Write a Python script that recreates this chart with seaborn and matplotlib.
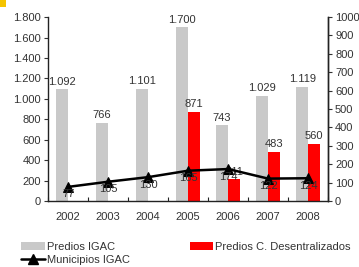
import matplotlib
matplotlib.use("Agg")
import matplotlib.pyplot as plt
import seaborn as sns
import pandas as pd
import numpy as np
from matplotlib.ticker import FuncFormatter, MultipleLocator, FixedLocator
from matplotlib.lines import Line2D
from matplotlib.patches import Patch

years = ["2002", "2003", "2004", "2005", "2006", "2007", "2008"]
predios_igac = [1092, 766, 1101, 1700, 743, 1029, 1119]
predios_desc = [0, 0, 0, 871, 211, 483, 560]
municipios_igac = [77, 105, 130, 165, 174, 122, 124]

sns.set_theme(style="white")
plt.rcParams['font.family'] = ['Liberation Sans', 'DejaVu Sans']

GRAY = "#c9c9c9"
RED = "#ff0000"
TXT = "#333333"
FS = 8

def dots(v, pos=None):
    return f"{int(v):,}".replace(",", ".")

df = pd.DataFrame({
    "year": years * 2,
    "value": predios_igac + predios_desc,
    "serie": ["Predios IGAC"] * len(years) + ["Predios C. Desentralizados"] * len(years),
})

fig = plt.figure(figsize=(3.59, 2.67), dpi=100)
ax = fig.add_axes([0.134, 0.247, 0.780, 0.689])
sns.barplot(data=df, x="year", y="value", hue="serie",
            palette=[GRAY, RED], width=0.6, dodge=True, ax=ax, legend=False,
            saturation=1, linewidth=0)
ax.set_xlim(-0.5, len(years) - 0.5)
ax.set_ylim(0, 1800)
ax.yaxis.set_major_locator(MultipleLocator(200))
ax.yaxis.set_major_formatter(FuncFormatter(dots))
ax.set_xlabel("")
ax.set_ylabel("")
ax.tick_params(axis="y", labelsize=FS, colors=TXT, length=3, width=0.8, direction="out", pad=2, left=True)
ax.tick_params(axis="x", labelsize=FS, colors=TXT, length=0, pad=8)
ax.xaxis.set_minor_locator(FixedLocator(np.arange(-0.5, len(years), 1.0)))
ax.tick_params(axis="x", which="minor", length=3, width=0.8, direction="in", bottom=True, color="#222222")
ax.spines["top"].set_visible(False)
for s in ["left", "bottom", "right"]:
    ax.spines[s].set_color("#222222")
    ax.spines[s].set_linewidth(1.0)

pos = np.arange(len(years))
for i, v in enumerate(predios_igac):
    ax.text(pos[i] - 0.15, v + 25, dots(v), ha="center", va="bottom", fontsize=FS, color=TXT)
for i, v in enumerate(predios_desc):
    if v > 0:
        ax.text(pos[i] + 0.15, v + 25, dots(v), ha="center", va="bottom", fontsize=FS, color=TXT)

ax2 = ax.twinx()
sns.lineplot(x=pos, y=municipios_igac, ax=ax2, color="black", linewidth=1.8,
             marker="^", markersize=7, markeredgecolor="black")
ax2.set_ylim(0, 1000)
ax2.set_xlim(-0.5, len(years) - 0.5)
ax2.yaxis.set_major_locator(MultipleLocator(100))
ax2.tick_params(axis="y", labelsize=FS, colors=TXT, length=3, width=0.8, direction="out", pad=2, right=True)
for s in ["top", "left", "bottom"]:
    ax2.spines[s].set_visible(False)
ax2.spines["right"].set_color("#222222")
ax2.spines["right"].set_linewidth(1.0)
for i, v in enumerate(municipios_igac):
    ax2.text(pos[i], v - 14, str(v), ha="center", va="top", fontsize=FS, color=TXT)

handles = [Patch(facecolor=GRAY, edgecolor="none", label="Predios IGAC"),
           Line2D([0], [0], color="black", lw=1.8, marker="^", markersize=7, label="Municipios IGAC"),
           Patch(facecolor=RED, edgecolor="none", label="Predios C. Desentralizados")]
fig.legend(handles=handles, ncol=2, loc="upper left", bbox_to_anchor=(0.044, 0.115),
           frameon=False, fontsize=FS, handlelength=2.1, handleheight=0.8,
           handletextpad=0.2, columnspacing=5.4, labelspacing=0.25, borderpad=0,
           labelcolor=TXT)

fig.patches.append(plt.Rectangle((0, 0.975), 0.017, 0.025, transform=fig.transFigure,
                                 facecolor="#f5c400", edgecolor="none"))

fig.savefig("out.png", dpi=100)
